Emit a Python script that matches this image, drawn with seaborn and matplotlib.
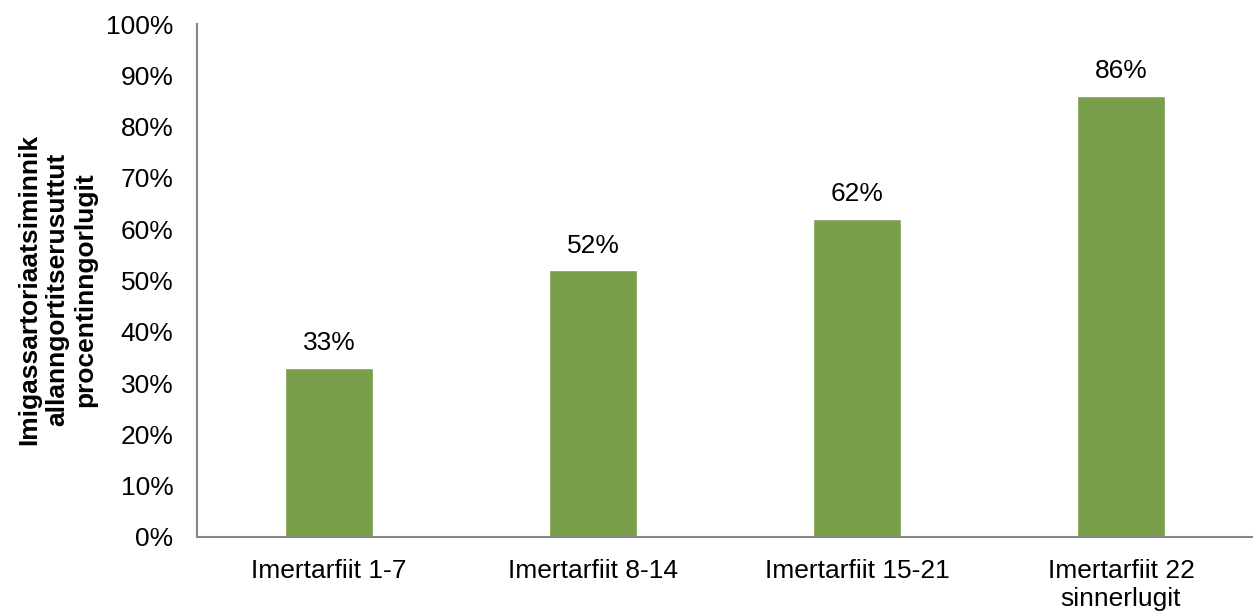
import matplotlib
matplotlib.use("Agg")
import matplotlib.pyplot as plt
import seaborn as sns
import pandas as pd
from matplotlib.ticker import PercentFormatter

categories = ["Imertarfiit 1-7", "Imertarfiit 8-14", "Imertarfiit 15-21", "Imertarfiit 22\nsinnerlugit"]
shares = [0.33, 0.52, 0.62, 0.86]
y_label = "Imigassartoriaatsiminnik\nallanngortitserusuttut\nprocentinngorlugit"

sns.set_style("white")
plt.rcParams["font.family"] = ["Liberation Sans", "DejaVu Sans"]
plt.rcParams["text.color"] = "black"

df = pd.DataFrame({"category": categories, "share": shares})

fig = plt.figure(figsize=(12.53, 6.12), dpi=100)
ax = fig.add_axes([197 / 1253, 1 - 537 / 612, 1056 / 1253, (537 - 24) / 612])

sns.barplot(data=df, x="category", y="share", color="#789E4A", saturation=1,
            width=0.333, ax=ax)

ax.set_xlim(-0.5, 3.5)
ax.set_ylim(0, 1)
ax.set_yticks([i / 10 for i in range(11)])
ax.yaxis.set_major_formatter(PercentFormatter(1.0, decimals=0))
ax.tick_params(axis="both", length=0, labelsize=19, colors="black")
ax.tick_params(axis="y", pad=17)
ax.tick_params(axis="x", pad=16)

for side in ["top", "right"]:
    ax.spines[side].set_visible(False)
for side in ["left", "bottom"]:
    ax.spines[side].set_color("#868686")
    ax.spines[side].set_linewidth(1.5)

ax.bar_label(ax.containers[0], labels=[f"{round(v * 100)}%" for v in shares],
             padding=9, fontsize=19, color="black")

ax.set_xlabel("")
ax.set_ylabel(y_label, fontsize=19, fontweight="bold", color="black")
ax.yaxis.set_label_coords(-0.0947, 0.4825)

fig.savefig("out.png", dpi=100)
